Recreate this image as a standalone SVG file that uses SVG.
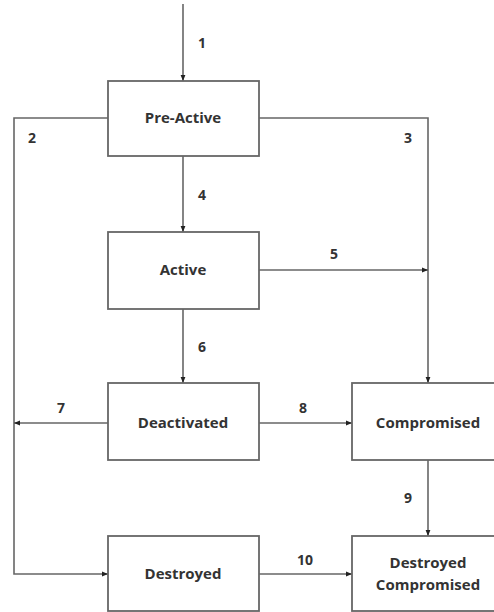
<svg xmlns="http://www.w3.org/2000/svg" width="494" height="612" viewBox="0 0 494 612">
<style>
.box{fill:#fff;stroke:#666;stroke-width:1.8}
.t{font-family:"Open Sans","Liberation Sans",sans-serif;font-weight:bold;font-size:15px;fill:#333;text-anchor:middle}
.n{font-family:"Open Sans","Liberation Sans",sans-serif;font-weight:bold;font-size:14px;fill:#333;text-anchor:middle}
.c{fill:none;stroke:#666;stroke-width:1.6}
</style>
<defs>
<marker id="a" viewBox="0 0 10 10" refX="10" refY="5" markerWidth="6" markerHeight="6" orient="auto" markerUnits="userSpaceOnUse">
<path d="M0,1 L10,5 L0,9 z" fill="#222"/>
</marker>
</defs>
<rect width="494" height="612" fill="#fff"/>
<g id="connectors">
<path class="c" d="M183,4 V81" marker-end="url(#a)"/>
<path class="c" d="M108,118 H14 V574 H108" marker-end="url(#a)"/>
<path class="c" d="M259,118 H428 V383" marker-end="url(#a)"/>
<path class="c" d="M183,156 V232" marker-end="url(#a)"/>
<path class="c" d="M259,270 H428" marker-end="url(#a)"/>
<path class="c" d="M183,309 V383" marker-end="url(#a)"/>
<path class="c" d="M108,423 H14" marker-end="url(#a)"/>
<path class="c" d="M259,423 H352" marker-end="url(#a)"/>
<path class="c" d="M428,460 V536" marker-end="url(#a)"/>
<path class="c" d="M259,574 H352" marker-end="url(#a)"/>
<text class="n" x="202" y="48">1</text>
<text class="n" x="32" y="143">2</text>
<text class="n" x="408" y="143">3</text>
<text class="n" x="202" y="200">4</text>
<text class="n" x="334" y="259">5</text>
<text class="n" x="202" y="352">6</text>
<text class="n" x="61" y="413">7</text>
<text class="n" x="303" y="413">8</text>
<text class="n" x="408" y="503">9</text>
<text class="n" x="305" y="565">10</text>
</g>
<g id="pre-active"><rect class="box" x="108" y="81" width="151" height="75"/><text class="t" x="183" y="123">Pre-Active</text></g>
<g id="active"><rect class="box" x="108" y="232" width="151" height="77"/><text class="t" x="183" y="275">Active</text></g>
<g id="deactivated"><rect class="box" x="108" y="383" width="151" height="77"/><text class="t" x="183" y="428">Deactivated</text></g>
<g id="compromised"><rect class="box" x="352" y="383" width="151" height="77"/><text class="t" x="428" y="428">Compromised</text></g>
<g id="destroyed"><rect class="box" x="108" y="536" width="151" height="75"/><text class="t" x="183" y="579">Destroyed</text></g>
<g id="destroyed-compromised"><rect class="box" x="352" y="536" width="151" height="75"/><text class="t" x="428" y="568">Destroyed</text><text class="t" x="428" y="590">Compromised</text></g>
</svg>
